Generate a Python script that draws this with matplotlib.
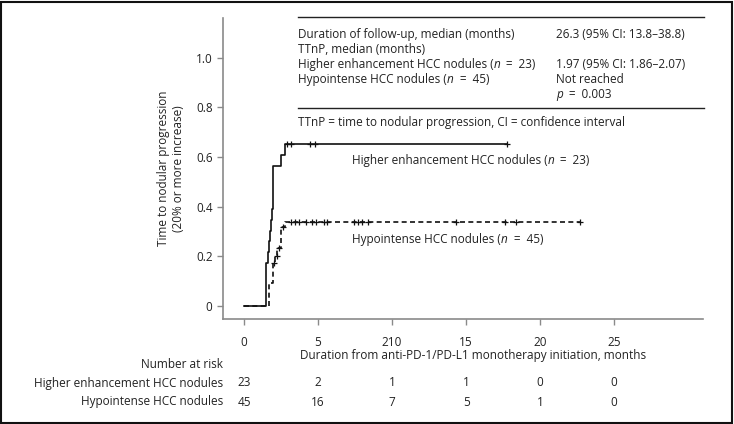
import numpy as np
import matplotlib
matplotlib.use("Agg")
import matplotlib.pyplot as plt
from matplotlib.patches import Rectangle
from matplotlib.transforms import IdentityTransform

plt.rcParams['font.family'] = ['Open Sans', 'DejaVu Sans']

# ---- data ----
hi_times = [0, 1.47, 1.6, 1.7, 1.77, 1.85, 1.9, 1.95, 1.98, 2.48, 2.77, 17.75]
hi_vals = [0, 0.174, 0.217, 0.261, 0.304, 0.348, 0.391, 0.435, 0.565, 0.609, 0.652, 0.652]
hi_censor = [2.88, 3.2, 4.46, 4.8, 17.75]

lo_times = [0, 1.71, 1.94, 2.1, 2.25, 2.5, 2.8, 22.7]
lo_vals = [0, 0.094, 0.175, 0.2, 0.233, 0.32, 0.339, 0.339]
lo_censor = [2.0, 2.2, 2.35, 2.6, 3.18, 3.45, 3.72, 4.2, 4.6, 4.86, 5.4, 5.6,
             7.4, 7.7, 8.0, 8.4, 14.3, 17.6, 18.4, 22.7]

x_ticks = [0, 5, 10, 15, 20, 25]
x_ticklabels = ["0", "5", "210", "15", "20", "25"]
y_ticks = [0, 0.2, 0.4, 0.6, 0.8, 1.0]
y_ticklabels = ["0", "0.2", "0.4", "0.6", "0.8", "1.0"]

risk_groups = ["Higher enhancement HCC nodules", "Hypointense HCC nodules"]
risk_hi = [23, 2, 1, 1, 0, 0]
risk_lo = [45, 16, 7, 5, 1, 0]

EQ = "\u2002=\u2002"
N = "normal"
I = "italic"
table_left = [[("Duration of follow-up, median (months)", N)],
              [("TTnP, median (months)", N)],
              [("Higher enhancement HCC nodules (", N), ("n", I), (EQ + "23)", N)],
              [("Hypointense HCC nodules (", N), ("n", I), (EQ + "45)", N)],
              []]
table_right = [[("26.3 (95% CI: 13.8–38.8)", N)], [],
               [("1.97 (95% CI: 1.86–2.07)", N)],
               [("Not reached", N)],
               [("p", I), (EQ + "0.003", N)]]
footnote = "TTnP = time to nodular progression, CI = confidence interval"
label_hi = [("Higher enhancement HCC nodules (", N), ("n", I), (EQ + "23)", N)]
label_lo = [("Hypointense HCC nodules (", N), ("n", I), (EQ + "45)", N)]

# ---- figure ----
W, H = 734, 424
fig = plt.figure(figsize=(W / 100, H / 100), dpi=100)
fig.patch.set_facecolor('white')
ax = fig.add_axes([223 / W, 1 - 319 / H, (703 - 223) / W, (319 - 18) / H])

txt = '#222222'
gray = '#8a8a8a'
FS = 8.5

def step_at(times, vals, t):
    idx = np.searchsorted(times, t, side='right') - 1
    return np.array(vals)[idx]

ax.step(hi_times, hi_vals, where='post', color='#111111', lw=1.2)
ax.plot(hi_censor, step_at(hi_times, hi_vals, hi_censor), '+', color='#111111',
        ms=5, mew=0.9)
ax.step(lo_times, lo_vals, where='post', color='#111111', lw=1.2,
        linestyle=(0, (3, 2)))
ax.plot(lo_censor, step_at(lo_times, lo_vals, lo_censor), '+', color='#111111',
        ms=5, mew=0.9)

ax.set_xlim(-1.42, 31.0)
ax.set_ylim(-0.052, 1.16)
ax.set_xticks(x_ticks)
ax.set_xticklabels(x_ticklabels)
ax.set_yticks(y_ticks)
ax.set_yticklabels(y_ticklabels)
for s in ['top', 'right']:
    ax.spines[s].set_visible(False)
for s in ['left', 'bottom']:
    ax.spines[s].set_color(gray)
    ax.spines[s].set_linewidth(1.2)
ax.tick_params(axis='both', colors=gray, labelcolor=txt, labelsize=FS,
               length=4, width=1)
ax.tick_params(axis='x', pad=8)
ax.set_ylabel("Time to nodular progression\n(20% or more increase)",
              fontsize=FS, color=txt, labelpad=8, linespacing=1.2)

renderer = fig.canvas.get_renderer()

def mixed(xpix, ypix_top, parts):
    """Draw mixed-style text; xpix from left, ypix_top = baseline from top."""
    x = xpix
    y = H - ypix_top
    for s, style in parts:
        t = fig.text(x, y, s, fontsize=FS, color=txt, fontstyle=style,
                     va='baseline', ha='left', transform=IdentityTransform())
        x += t.get_window_extent(renderer).width

# curve labels (anchored at data coords)
for (xd, yd), parts in zip([(7.3, 0.59), (7.3, 0.27)], [label_hi, label_lo]):
    px, py = ax.transData.transform((xd, yd))
    mixed(px, H - py + 4, parts)

# x label
fig.text(473 / W, 1 - 355 / H,
         "Duration from anti-PD-1/PD-L1 monotherapy initiation, months",
         fontsize=FS, color=txt, ha='center', va='center')

# table in upper right
fig.add_artist(plt.Line2D([298 / W, 704 / W], [1 - 17 / H, 1 - 17 / H],
                          color='#222222', lw=1))
fig.add_artist(plt.Line2D([298 / W, 704 / W], [1 - 108 / H, 1 - 108 / H],
                          color='#222222', lw=1))
rows_y = [34, 49, 64, 79, 94]
for yy, l, r in zip(rows_y, table_left, table_right):
    mixed(298, yy + 4, l)
    mixed(556, yy + 4, r)
fig.text(298 / W, 1 - (122 + 4) / H, footnote, fontsize=FS, color=txt,
         va='baseline')

# number at risk
fig.text(223 / W, 1 - 365 / H, "Number at risk", fontsize=FS, color=txt,
         ha='right', va='center')
for yy, name, vals in zip([383, 402], risk_groups, [risk_hi, risk_lo]):
    fig.text(223 / W, 1 - yy / H, name, fontsize=FS, color=txt,
             ha='right', va='center')
    for xt, v in zip(x_ticks, vals):
        xf = fig.transFigure.inverted().transform(
            ax.transData.transform((xt, 0)))[0]
        fig.text(xf, 1 - yy / H, str(v), fontsize=FS, color=txt,
                 ha='center', va='center')

# figure border
fig.add_artist(Rectangle((1 / W, 1 / H), (W - 3) / W, (H - 3) / H,
                         transform=fig.transFigure, fill=False,
                         edgecolor='#111111', lw=1.5))

fig.savefig("out.png", dpi=100)
